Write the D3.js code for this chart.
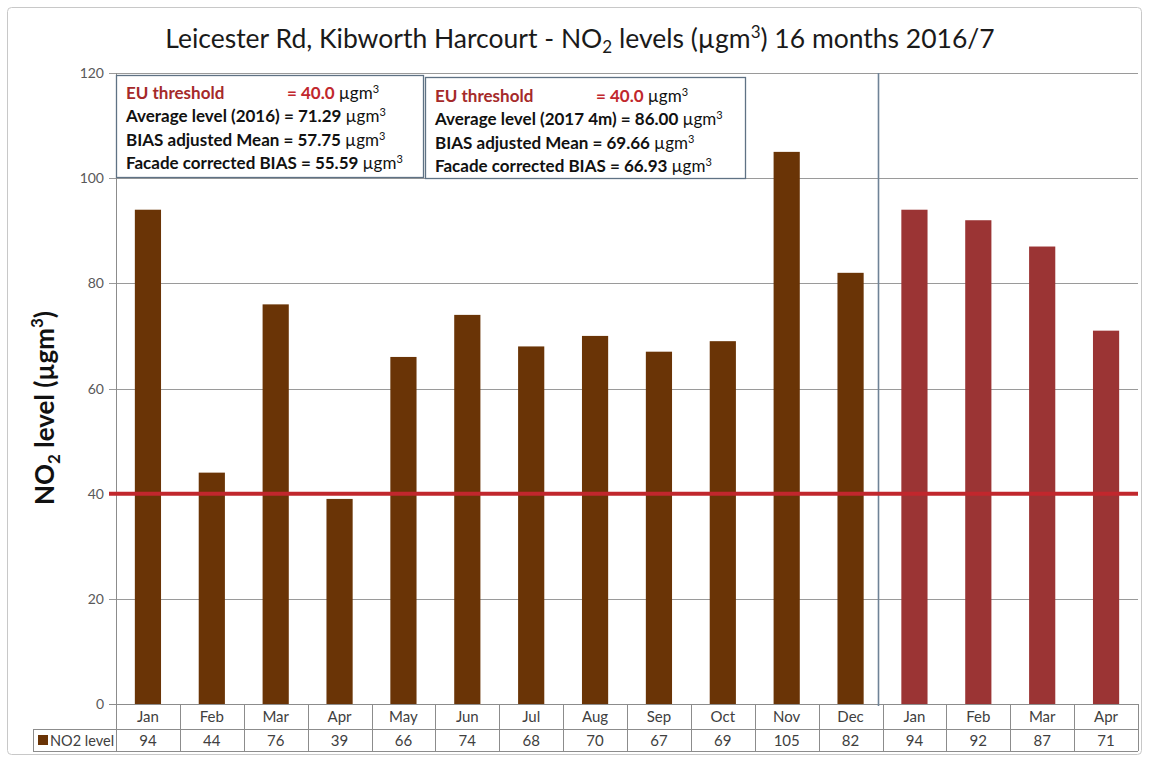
<!DOCTYPE html>
<html lang="en">
<head>
    <meta charset="UTF-8">
    <title>Kibworth Harcourt NO2</title>
    <script src="https://d3js.org/d3.v7.min.js"></script>
</head>
<style>
    body{
        margin: 0;
        background: #fff;
        font-family: 'Lato', 'Open Sans', sans-serif;
    }
</style>
<body>
    <div id="chart-container"></div>
    <script>
        // chart values
        const months = ["Jan", "Feb", "Mar", "Apr", "May", "Jun", "Jul", "Aug", "Sep", "Oct", "Nov", "Dec", "Jan", "Feb", "Mar", "Apr"];
        const no2Values = [94, 44, 76, 39, 66, 74, 68, 70, 67, 69, 105, 82, 94, 92, 87, 71];
        const years = [2016, 2016, 2016, 2016, 2016, 2016, 2016, 2016, 2016, 2016, 2016, 2016, 2017, 2017, 2017, 2017];
        const yTicks = [0, 20, 40, 60, 80, 100, 120];
        const threshold = 40;
        const seriesName = "NO2 level";
        const box2016 = [["Average level (2016) = 71.29 "], ["BIAS adjusted Mean = 57.75 "], ["Facade corrected BIAS = 55.59 "]];
        const box2017 = [["Average level (2017 4m) = 86.00 "], ["BIAS adjusted Mean = 69.66 "], ["Facade corrected BIAS = 66.93 "]];

        const w = 1149;
        const h = 757;
        const colors = {2016: "#6a3406", 2017: "#9b3434"};

        const svg = d3.select("#chart-container")
                    .append("svg")
                    .attr("width", w)
                    .attr("height", h);

        svg.append("rect")
            .attr("x", 7.5).attr("y", 7.5)
            .attr("width", 1134).attr("height", 747)
            .attr("rx", 4)
            .attr("fill", "#fff")
            .attr("stroke", "#c8c8c8");

        const x = d3.scaleBand()
            .domain(d3.range(months.length))
            .range([116, 1138]);

        const y = d3.scaleLinear()
            .domain([0, 120])
            .range([704, 73]);

        // gridlines + ticks
        svg.selectAll(".grid")
            .data(yTicks)
            .enter()
            .append("line")
            .attr("x1", 109).attr("x2", 1138)
            .attr("y1", d => Math.round(y(d)) + 0.5)
            .attr("y2", d => Math.round(y(d)) + 0.5)
            .attr("stroke", d => d === 0 ? "#8c8c8c" : "#9a9a9a")
            .attr("stroke-width", 1);

        svg.selectAll(".ytick")
            .data(yTicks)
            .enter()
            .append("text")
            .attr("x", 104)
            .attr("y", d => y(d) + 5)
            .attr("text-anchor", "end")
            .attr("fill", "#595959")
            .style("font-size", "14px")
            .text(d => d);

        // y axis line
        svg.append("line")
            .attr("x1", 116.5).attr("x2", 116.5)
            .attr("y1", y(120)).attr("y2", 751)
            .attr("stroke", "#8c8c8c");

        // bars
        const bw = x.bandwidth() * 0.41;
        svg.selectAll(".bar")
            .data(no2Values)
            .enter()
            .append("rect")
            .attr("x", (d, i) => x(i) + (x.bandwidth() - bw) / 2)
            .attr("y", d => y(d))
            .attr("width", bw)
            .attr("height", d => y(0) - y(d))
            .attr("fill", (d, i) => colors[years[i]]);

        // divider between years
        const firstOf2017 = years.indexOf(2017);
        svg.append("line")
            .attr("x1", x(firstOf2017) - 4).attr("x2", x(firstOf2017) - 4)
            .attr("y1", y(120)).attr("y2", y(0) + 2)
            .attr("stroke", "#6f8397")
            .attr("stroke-width", 1.6);

        // threshold line
        svg.append("line")
            .attr("x1", 109).attr("x2", 1138)
            .attr("y1", y(threshold)).attr("y2", y(threshold))
            .attr("stroke", "#c1272d")
            .attr("stroke-width", 4);

        // data table
        const table = svg.append("g").attr("stroke", "#8c8c8c").attr("stroke-width", 1);
        table.append("line").attr("x1", 33).attr("x2", 1138).attr("y1", 729.5).attr("y2", 729.5);
        table.append("line").attr("x1", 33).attr("x2", 1138).attr("y1", 751.5).attr("y2", 751.5);
        table.append("line").attr("x1", 33.5).attr("x2", 33.5).attr("y1", 729).attr("y2", 751);
        table.selectAll(".col")
            .data(d3.range(months.length + 1))
            .enter()
            .append("line")
            .attr("x1", i => Math.round(116 + i * x.step()) + 0.5)
            .attr("x2", i => Math.round(116 + i * x.step()) + 0.5)
            .attr("y1", 704).attr("y2", 751);

        svg.selectAll(".cat")
            .data(months)
            .enter()
            .append("text")
            .attr("x", (d, i) => x(i) + x.bandwidth() / 2)
            .attr("y", 722)
            .attr("text-anchor", "middle")
            .attr("fill", "#404040")
            .style("font-size", "15px")
            .text(d => d);

        svg.selectAll(".val")
            .data(no2Values)
            .enter()
            .append("text")
            .attr("x", (d, i) => x(i) + x.bandwidth() / 2)
            .attr("y", 746)
            .attr("text-anchor", "middle")
            .attr("fill", "#404040")
            .style("font-size", "15px")
            .text(d => d);

        svg.append("rect")
            .attr("x", 38).attr("y", 735)
            .attr("width", 10).attr("height", 10)
            .attr("fill", colors[2016]);
        svg.append("text")
            .attr("x", 50).attr("y", 746)
            .attr("fill", "#404040")
            .style("font-size", "14.5px")
            .text(seriesName);

        // annotation boxes
        const drawBox = (bx, by, bwid, bh, lines, base) => {
            svg.append("rect")
                .attr("x", bx + 0.5).attr("y", by + 0.5)
                .attr("width", bwid).attr("height", bh)
                .attr("fill", "#fff")
                .attr("stroke", "#5f7284")
                .attr("stroke-width", 1.3);
            const t = svg.append("text")
                .attr("x", bx + 10).attr("y", base)
                .style("font-size", "17px")
                .style("font-weight", "bold");
            t.append("tspan").attr("fill", "#a52a2a").text("EU threshold");
            t.append("tspan").attr("x", bx + 171).attr("fill", "#c1272d").text("= " + threshold.toFixed(1) + " ");
            t.append("tspan").attr("fill", "#111").style("font-weight", "normal").text("µgm");
            t.append("tspan").attr("fill", "#111").style("font-weight", "normal")
                .attr("font-size", "11px").attr("dy", -6).text("3");
            lines.forEach((l, i) => {
                const tl = svg.append("text")
                    .attr("x", bx + 10).attr("y", base + 23.3 * (i + 1))
                    .attr("fill", "#111")
                    .style("font-size", "17px")
                    .style("font-weight", "bold");
                tl.append("tspan").text(l[0]);
                tl.append("tspan").style("font-weight", "normal").text("µgm");
                tl.append("tspan").style("font-weight", "normal")
                    .attr("font-size", "11px").attr("dy", -6).text("3");
            });
        };
        drawBox(116, 75, 307, 102, box2016, 99);
        drawBox(425, 77, 320, 101, box2017, 102);

        // title
        const title = svg.append("text")
            .attr("x", 580).attr("y", 48)
            .attr("text-anchor", "middle")
            .attr("fill", "#1a1a1a")
            .style("font-size", "26.5px");
        title.append("tspan").text("Leicester Rd, Kibworth Harcourt - NO");
        title.append("tspan").attr("font-size", "17px").attr("dy", 5).text("2");
        title.append("tspan").attr("dy", -5).text(" levels (µgm");
        title.append("tspan").attr("font-size", "17px").attr("dy", -10).text("3");
        title.append("tspan").attr("dy", 10).text(") 16 months 2016/7");

        // y axis title
        const ylab = svg.append("text")
            .attr("transform", "translate(54, 408) rotate(-90)")
            .attr("text-anchor", "middle")
            .attr("fill", "#111")
            .style("font-size", "26px")
            .style("font-weight", "bold");
        ylab.append("tspan").text("NO");
        ylab.append("tspan").attr("font-size", "17px").attr("dy", 6).text("2");
        ylab.append("tspan").attr("dy", -6).text(" level (µgm");
        ylab.append("tspan").attr("font-size", "17px").attr("dy", -11).text("3");
        ylab.append("tspan").attr("dy", 11).text(")");
    </script>
</body>
</html>
